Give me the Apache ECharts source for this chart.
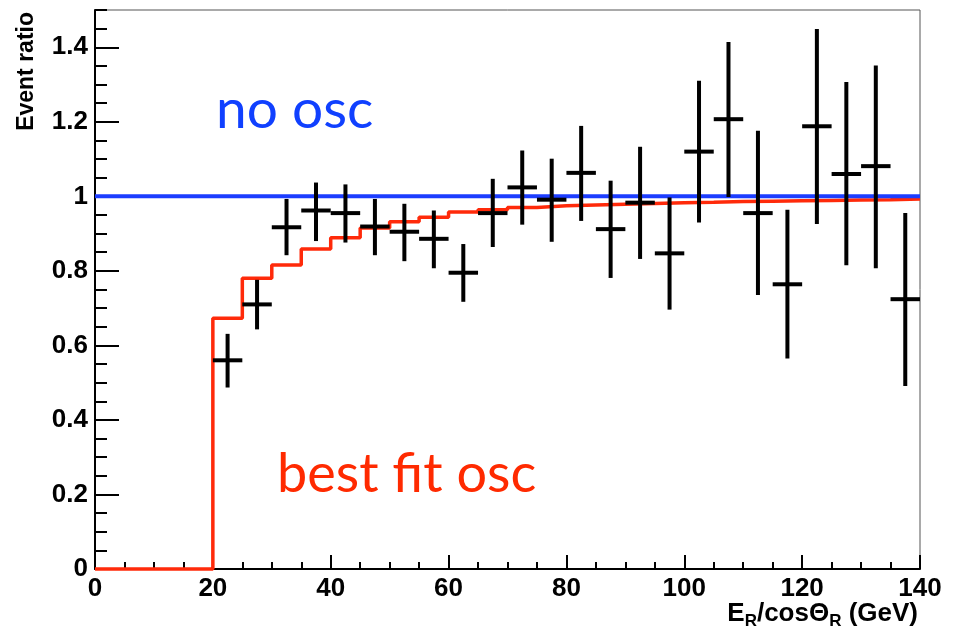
<!DOCTYPE html>
<html><head><meta charset="utf-8">
<script src="https://cdn.jsdelivr.net/npm/echarts@6/dist/echarts.min.js"></script>
<style>html,body{margin:0;padding:0;background:#fff}#c{width:955px;height:629px}</style>
</head><body><div id="c"></div>
<script>
// ---- data ----
const binCenters = [22.5,27.5,32.5,37.5,42.5,47.5,52.5,57.5,62.5,67.5,72.5,77.5,82.5,87.5,92.5,97.5,102.5,107.5,112.5,117.5,122.5,127.5,132.5,137.5];
const ratio   = [0.560,0.710,0.917,0.962,0.955,0.919,0.905,0.886,0.795,0.955,1.024,0.991,1.063,0.912,0.983,0.847,1.120,1.207,0.955,0.764,1.188,1.060,1.081,0.724];
const errLow  = [0.487,0.643,0.842,0.880,0.876,0.842,0.826,0.807,0.717,0.864,0.924,0.878,0.934,0.781,0.832,0.696,0.930,0.998,0.735,0.565,0.926,0.815,0.807,0.491];
const errHigh = [0.631,0.776,0.993,1.037,1.032,0.993,0.980,0.962,0.872,1.047,1.123,1.101,1.189,1.042,1.133,0.997,1.310,1.414,1.176,0.964,1.449,1.307,1.351,0.955];
const binWidth = 5;
const fitBinStart = [0,20,25,30,35,40,45,50,55,60,65,70,75,80,85,90,95,100,105,110,115,120,125,130,135];
const fitRatio    = [0,0.673,0.780,0.816,0.859,0.889,0.915,0.932,0.944,0.958,0.964,0.970,0.9745,0.977,0.979,0.981,0.983,0.984,0.986,0.987,0.988,0.989,0.990,0.991,0.993];
const fitEnd = 140;
const noOscX = [0,140];
const noOscY = [1,1];
const xTickLabels = [0,20,40,60,80,100,120,140];
const yTickLabels = [0,0.2,0.4,0.6,0.8,1,1.2,1.4];
const xMinorTicks = [];
for (let v = 0; v <= 140; v += 5) xMinorTicks.push(v);
const yMinorTicks = [];
for (let i = 0; i <= 30; i++) yMinorTicks.push(+(i*0.05).toFixed(2));

// ---- build ----
const fitData = fitBinStart.map((x,i)=>[x, fitRatio[i]]);
fitData.push([fitEnd, fitRatio[fitRatio.length-1]]);
const pts = binCenters.map((x,i)=>[x, ratio[i], errLow[i], errHigh[i]]);
const noOscData = noOscX.map((x,i)=>[x, noOscY[i]]);

const axFont = '"Liberation Sans", Arial, Helvetica, sans-serif';
const chart = echarts.init(document.getElementById('c'), null, {renderer:'canvas'});
chart.setOption({
  animation:false,
  backgroundColor:'#fff',
  grid:{left:95,right:35,top:10,bottom:60,show:true,borderColor:'#555',borderWidth:1,backgroundColor:'transparent'},
  xAxis:[
    {type:'value',min:0,max:140,interval:20,position:'bottom',
     axisLine:{show:true,onZero:false,lineStyle:{color:'#000',width:2}},
     axisTick:{show:true,inside:true,length:14,lineStyle:{color:'#000',width:2},customValues:xTickLabels},
     axisLabel:{show:true,margin:7,color:'#000',fontSize:26,fontWeight:'bold',fontFamily:axFont,customValues:xTickLabels},
     splitLine:{show:false}},
    {type:'value',min:0,max:140,interval:5,position:'bottom',
     axisLine:{show:false},
     axisTick:{show:true,inside:true,length:7,lineStyle:{color:'#000',width:2},customValues:xMinorTicks},
     axisLabel:{show:false},splitLine:{show:false}}
  ],
  yAxis:[
    {type:'value',min:0,max:1.5,interval:0.2,position:'left',
     axisLine:{show:true,onZero:false,lineStyle:{color:'#000',width:2}},
     axisTick:{show:true,inside:true,length:24,lineStyle:{color:'#000',width:2},customValues:yTickLabels},
     axisLabel:{show:true,margin:7,color:'#000',fontSize:26,fontWeight:'bold',fontFamily:axFont,customValues:yTickLabels},
     splitLine:{show:false}},
    {type:'value',min:0,max:1.5,interval:0.05,position:'left',
     axisLine:{show:false},
     axisTick:{show:true,inside:true,length:12,lineStyle:{color:'#000',width:2},customValues:yMinorTicks},
     axisLabel:{show:false},splitLine:{show:false}}
  ],
  series:[
    {type:'line',name:'no osc',data:noOscData,xAxisIndex:0,yAxisIndex:0,showSymbol:false,symbol:'none',clip:false,z:3,
     lineStyle:{color:'#1c3dff',width:4}},
    {type:'line',name:'best fit osc',data:fitData,step:'end',xAxisIndex:0,yAxisIndex:0,showSymbol:false,symbol:'none',clip:false,z:2,
     lineStyle:{color:'#ff2a0a',width:3.5}},
    {type:'custom',name:'data',data:pts,xAxisIndex:0,yAxisIndex:0,z:4,clip:false,
     encode:{x:0,y:1},
     renderItem:function(params, api){
       const x = api.value(0), y = api.value(1), lo = api.value(2), hi = api.value(3);
       const pc = api.coord([x, y]);
       const pl = api.coord([x - binWidth/2, y]);
       const pr = api.coord([x + binWidth/2, y]);
       const plo = api.coord([x, lo]);
       const phi = api.coord([x, hi]);
       return {type:'group',children:[
         {type:'line',shape:{x1:pl[0],y1:pc[1],x2:pr[0],y2:pc[1]},style:{stroke:'#000',lineWidth:4}},
         {type:'line',shape:{x1:pc[0],y1:plo[1],x2:pc[0],y2:phi[1]},style:{stroke:'#000',lineWidth:4}}
       ]};
     }}
  ],
  graphic:[
    {type:'text',x:27,y:12,rotation:Math.PI/2,
     style:{text:'Event ratio',font:'bold 23px '+axFont,fill:'#000',align:'right',textAlign:'right',verticalAlign:'middle',textVerticalAlign:'middle'}},
    {type:'text',right:37,top:597,
     style:{text:'{m|E}{s|R}{m|/cos\u0398}{s|R}{m| (GeV)}',fill:'#000',
       rich:{m:{fontSize:26,fontWeight:'bold',fontFamily:axFont,color:'#000',lineHeight:27},
             s:{fontSize:17,fontWeight:'bold',fontFamily:axFont,color:'#000',padding:[16,0,0,0],lineHeight:27}}}},
    {type:'text',x:216,y:110,
     style:{text:'no osc',font:'55px Lato, "Open Sans", sans-serif',fill:'#1040ff',align:'left',textAlign:'left',verticalAlign:'middle',textVerticalAlign:'middle'}},
    {type:'text',x:277,y:475,
     style:{text:'best fit osc',font:'54px Lato, "Open Sans", sans-serif',fill:'#ff2a00',align:'left',textAlign:'left',verticalAlign:'middle',textVerticalAlign:'middle'}}
  ]
});
</script>
</body></html>
